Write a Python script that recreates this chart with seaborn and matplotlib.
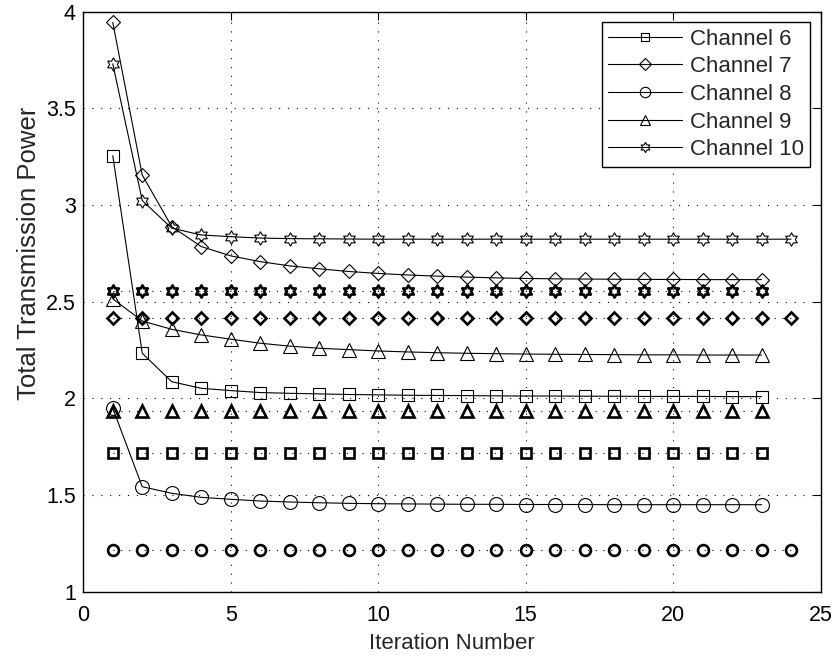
import numpy as np
import pandas as pd
import matplotlib
matplotlib.use("Agg")
import matplotlib.pyplot as plt
from matplotlib.path import Path
from matplotlib.ticker import FuncFormatter
import seaborn as sns

# --- Data ---
channels = ["Channel 6", "Channel 7", "Channel 8", "Channel 9", "Channel 10"]

iters_short = list(range(1, 24))   # channels 6-9 stop at iteration 23
iters_long = list(range(1, 25))    # channel 10 runs to iteration 24

ch6 = [3.255, 2.233, 2.086, 2.052, 2.040, 2.030, 2.026, 2.023, 2.020, 2.018, 2.016, 2.015,
       2.014, 2.013, 2.012, 2.012, 2.011, 2.011, 2.010, 2.010, 2.010, 2.009, 2.009]
ch7 = [3.945, 3.155, 2.888, 2.785, 2.737, 2.707, 2.685, 2.670, 2.656, 2.646, 2.638, 2.632,
       2.627, 2.623, 2.620, 2.618, 2.617, 2.616, 2.615, 2.615, 2.614, 2.614, 2.614]
ch8 = [1.949, 1.543, 1.509, 1.488, 1.478, 1.469, 1.464, 1.460, 1.457, 1.455, 1.454, 1.453,
       1.452, 1.452, 1.451, 1.451, 1.451, 1.450, 1.450, 1.450, 1.450, 1.450, 1.450]
ch9 = [2.515, 2.400, 2.357, 2.328, 2.306, 2.285, 2.270, 2.259, 2.252, 2.245, 2.240, 2.236,
       2.233, 2.231, 2.229, 2.228, 2.227, 2.226, 2.225, 2.225, 2.224, 2.224, 2.224]
ch10 = [3.730, 3.023, 2.880, 2.845, 2.836, 2.829, 2.826, 2.825, 2.824, 2.823, 2.823, 2.823,
        2.823, 2.823, 2.823, 2.823, 2.823, 2.823, 2.823, 2.823, 2.823, 2.823, 2.823, 2.823]

# flat reference levels (bold markers on dotted lines), one per channel
ref_levels = [1.718, 2.415, 1.215, 1.935, 2.556]
ref_last_iter = [23, 24, 24, 23, 23]

x_ticks = [0, 5, 10, 15, 20, 25]
y_ticks = [1, 1.5, 2, 2.5, 3, 3.5, 4]

# --- Styling ---
sns.set_style("white")
plt.rcParams["font.family"] = ["Liberation Sans", "DejaVu Sans"]

hexagram = Path.unit_regular_star(6, innerCircle=0.577)
markers = ["s", "D", "o", "^", hexagram]
msizes = [8, 7.6, 10, 10, 9.6]
bold_sizes = [6.8, 6.4, 7.8, 8.6, 8.8]

fig = plt.figure(figsize=(8.36, 6.56), dpi=100)
ax = fig.add_axes([0.0996, 0.098, 0.8819, 0.8843])

# --- Reference levels (bold markers, dotted line) ---
for i, name in enumerate(channels):
    xs = list(range(1, ref_last_iter[i] + 1))
    df = pd.DataFrame({"iter": xs, "power": [ref_levels[i]] * len(xs)})
    sns.lineplot(data=df, x="iter", y="power", ax=ax, color="k", linestyle=(0, (1, 6)),
                 linewidth=0.8, marker=markers[i], markersize=bold_sizes[i],
                 markerfacecolor="none", markeredgecolor="k", markeredgewidth=1.9)

# --- Iterative results (solid lines, thin markers) ---
series = [ch6, ch7, ch8, ch9, ch10]
for i, name in enumerate(channels):
    xs = iters_long if len(series[i]) == 24 else iters_short
    df = pd.DataFrame({"iter": xs, "power": series[i]})
    sns.lineplot(data=df, x="iter", y="power", ax=ax, color="k", linewidth=0.8,
                 marker=markers[i], markersize=msizes[i], markerfacecolor="none",
                 markeredgecolor="k", markeredgewidth=0.8, label=name)

# --- Axes, grid, ticks ---
ax.set_xlim(0, 25)
ax.set_ylim(1, 4)
ax.set_xticks(x_ticks)
ax.set_yticks(y_ticks)
ax.yaxis.set_major_formatter(FuncFormatter(lambda v, p: f"{v:g}"))
ax.grid(True, color="k", linestyle=(0, (1, 7)), linewidth=0.8)
ax.set_axisbelow(True)
ax.tick_params(direction="in", length=5.5, width=0.8, top=True, right=True,
               labelsize=15.5, colors="k")
ax.tick_params(axis="x", pad=9.5)
ax.tick_params(axis="y", pad=5.3)
for sp in ax.spines.values():
    sp.set_color("k")
    sp.set_linewidth(1.0)

ax.set_xlabel("Iteration Number", fontsize=16, labelpad=5)
ax.set_ylabel("Total Transmission Power", fontsize=18.5)
ax.yaxis.set_label_coords(-0.0575, 0.583)

leg = ax.legend(loc="upper right", fontsize=16, frameon=True, fancybox=False,
                edgecolor="k", framealpha=1, handlelength=3.3, handletextpad=0.36,
                labelspacing=0.3, borderpad=0.3, borderaxespad=0.46, markerscale=0.75)
leg.get_frame().set_linewidth(1.0)

plt.savefig("out.png", dpi=100)
plt.close()
